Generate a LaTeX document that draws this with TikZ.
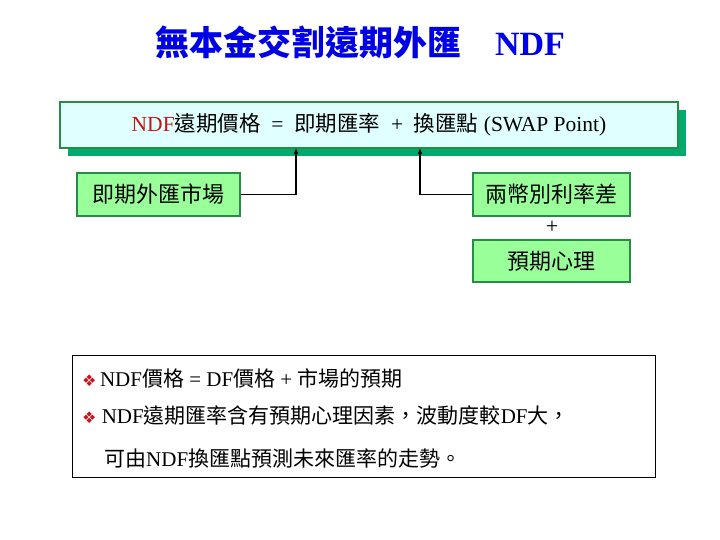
\documentclass[tikz,border=0pt]{standalone}
\usetikzlibrary{arrows.meta}
\usepackage{fontspec}
\setmainfont{Liberation Serif}
\newfontfamily\cjk{Noto Sans CJK TC}
\newfontfamily\dvs{DejaVu Sans}
\definecolor{ttl}{RGB}{0,0,230}
\definecolor{cyanfill}{RGB}{224,255,255}
\definecolor{grfill}{RGB}{153,255,153}
\definecolor{bord}{RGB}{40,140,70}
\definecolor{shad}{RGB}{0,170,110}
\definecolor{ndfred}{RGB}{200,20,20}
\definecolor{bul}{RGB}{200,20,30}
\begin{document}
\begin{tikzpicture}[x=1pt,y=-1pt,
  gbox/.style={draw=bord,line width=1.2pt,fill=grfill,inner sep=0pt,font=\fontsize{22}{26}\selectfont},
  conn/.style={line width=1.2pt,-{Latex[length=6pt,width=5pt]}},
  txt/.style={anchor=west,inner sep=0pt,font=\fontsize{21}{25}\selectfont}]
\useasboundingbox (0,0) rectangle (720,540);
\node[font=\fontsize{34}{38}\selectfont\bfseries,text=ttl] (title) at (360,42) {{\cjk 無本金交割遠期外匯}\quad NDF};
\fill[shad] (68,110) rectangle (686,156);
\node[draw=bord,line width=1.2pt,fill=cyanfill,minimum width=618pt,minimum height=46pt,inner sep=0pt,font=\fontsize{21.5}{26}\selectfont] (top) at (369,125)
 {\textcolor{ndfred}{NDF}{\cjk 遠期價格}\enspace=\enspace{\cjk 即期匯率}\enspace+\enspace{\cjk 換匯點}~(SWAP Point)};
\node[gbox,minimum width=163pt,minimum height=43pt] (spot) at (158.5,194.5) {\cjk 即期外匯市場};
\node[gbox,minimum width=157pt,minimum height=43pt] (rate) at (551.5,194.5) {\cjk 兩幣別利率差};
\node[font=\fontsize{22}{26}\selectfont] (plus) at (552,227) {+};
\node[gbox,minimum width=157pt,minimum height=42pt] (exp) at (551.5,261) {\cjk 預期心理};
\coordinate (t1) at (296,148);
\coordinate (t2) at (420,148);
\draw[conn] (spot.east) -| (t1);
\draw[conn] (rate.west) -| (t2);
\node[draw=black,line width=0.8pt,minimum width=583pt,minimum height=122pt,inner sep=0pt] (note) at (363.5,416) {};
\node[txt] (l1) at (82,378) {\textcolor{bul}{\dvs\fontsize{16}{18}\selectfont ❖}\,NDF{\cjk 價格}~=~DF{\cjk 價格}~+~{\cjk 市場的預期}};
\node[txt] (l2) at (82,415) {\textcolor{bul}{\dvs\fontsize{16}{18}\selectfont ❖}~NDF{\cjk 遠期匯率含有預期心理因素，波動度較}DF{\cjk 大，}};
\node[txt] (l3) at (104,458) {{\cjk 可由}NDF{\cjk 換匯點預測未來匯率的走勢。}};
\end{tikzpicture}
\end{document}
